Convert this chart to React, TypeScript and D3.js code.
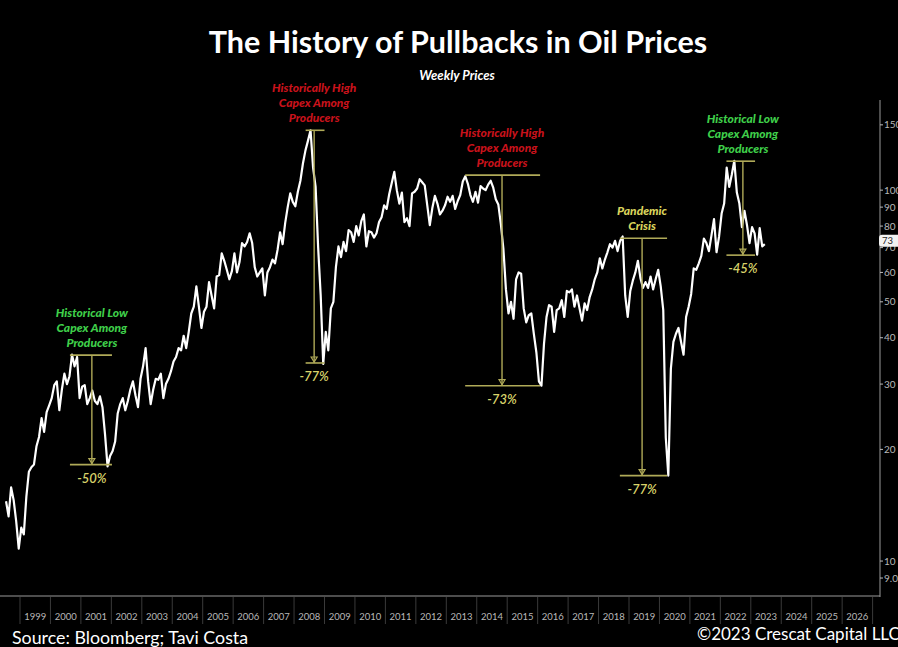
import React, { useRef, useEffect } from "react";
import * as d3 from "d3";

// WTI weekly-ish closes, one value per month, starting July 1998
const firstMonth = 1998.5;
const oilPrices = [
  14.5, 13.2, 15.8, 14.6, 12.8, 10.8, // 1998 H2
  12.3, 11.8, 14.9, 17.4, 17.9, 18.2, 20.4, 21.6, 24.3, 22.3, 25.2, 26.3, // 1999
  27.5, 29.8, 30.5, 25.5, 29.0, 32.0, 30.0, 31.5, 36.0, 33.5, 35.5, 27.5, // 2000
  29.5, 29.8, 26.5, 27.5, 28.8, 27.0, 26.5, 27.8, 26.0, 22.0, 18.0, 19.2, // 2001
  19.8, 21.0, 25.0, 26.5, 27.5, 25.5, 27.0, 29.0, 30.5, 28.0, 26.0, 31.0, // 2002
  33.5, 37.5, 30.5, 26.5, 29.0, 31.0, 30.8, 32.0, 27.5, 30.0, 31.0, 32.5, // 2003
  34.5, 35.5, 37.5, 37.0, 40.5, 37.5, 41.5, 46.5, 48.5, 55.0, 48.5, 42.5, // 2004
  47.0, 48.5, 56.5, 52.0, 48.0, 58.5, 59.0, 67.5, 64.5, 61.0, 57.5, 60.5, // 2005
  67.5, 60.0, 64.0, 72.0, 70.5, 72.5, 76.5, 72.0, 62.0, 58.5, 60.0, 61.5, // 2006
  52.0, 60.0, 62.0, 65.0, 63.5, 69.0, 77.0, 71.5, 81.5, 90.0, 98.0, 93.0, // 2007
  90.5, 99.0, 106.0, 118.0, 128.0, 136.0, 145.0, 115.0, 102.0, 70.0, 52.0, 34.0, // 2008
  41.5, 37.0, 48.0, 50.0, 62.0, 70.5, 66.0, 72.5, 68.5, 78.0, 77.0, 72.5, // 2009
  80.0, 75.5, 82.5, 86.0, 70.5, 77.5, 77.0, 74.5, 76.5, 82.0, 84.5, 91.0, // 2010
  89.0, 97.5, 104.5, 112.0, 100.0, 92.0, 98.5, 82.0, 84.0, 80.0, 98.0, 99.0, // 2011
  101.0, 107.0, 105.0, 103.0, 91.0, 80.5, 89.5, 96.5, 92.0, 86.0, 88.0, 91.0, // 2012
  96.0, 93.0, 96.5, 89.0, 93.5, 97.0, 105.5, 109.0, 104.0, 97.0, 93.0, 99.0, // 2013
  92.5, 102.5, 101.0, 100.0, 103.5, 106.0, 101.5, 94.5, 91.5, 81.0, 69.5, 54.0, // 2014
  46.5, 50.0, 45.0, 57.5, 60.0, 59.5, 48.0, 44.0, 46.0, 46.5, 41.0, 36.5, // 2015
  30.5, 29.7, 38.5, 45.5, 49.0, 48.5, 41.5, 47.5, 48.0, 50.5, 45.5, 53.5, // 2016
  53.0, 54.0, 48.5, 52.0, 48.0, 44.5, 49.5, 47.5, 51.5, 54.0, 57.5, 60.0, // 2017
  65.5, 61.5, 65.0, 68.0, 71.5, 70.0, 73.0, 68.5, 73.0, 75.0, 52.0, 45.5, // 2018
  53.5, 57.0, 60.0, 64.5, 58.0, 54.5, 56.5, 54.5, 58.5, 54.0, 57.5, 61.0, // 2019
  55.0, 47.5, 21.5, 17.0, 33.0, 39.0, 41.0, 42.5, 39.0, 36.0, 45.5, 48.5, // 2020
  52.5, 61.5, 61.0, 63.5, 66.5, 74.0, 72.0, 68.5, 75.5, 83.5, 68.0, 75.0, // 2021
  86.5, 92.0, 115.0, 102.0, 110.0, 120.0, 98.5, 92.0, 79.5, 88.0, 80.5, 72.0, // 2022
  79.5, 76.5, 67.0, 79.0, 70.5, 71.5, // 2023 H1
];

const yearLabels = [
  1999, 2000, 2001, 2002, 2003, 2004, 2005, 2006, 2007, 2008, 2009, 2010, 2011, 2012,
  2013, 2014, 2015, 2016, 2017, 2018, 2019, 2020, 2021, 2022, 2023, 2024, 2025, 2026,
];
const priceTicks = [9, 10, 20, 30, 40, 50, 60, 70, 80, 90, 100, 150];
const lastPrice = 73;

// pullbacks: peak -> trough, span in years
const pullbacks = [
  { lines: ["Historical Low", "Capex Among", "Producers"], color: "#3fcf4a", peak: 35.9, trough: 18.2, from: 2000.64, to: 2002.02, at: 2001.36, pct: "-50%" },
  { lines: ["Historically High", "Capex Among", "Producers"], color: "#c8121b", peak: 145, trough: 34.2, from: 2008.38, to: 2009.0, at: 2008.66, pct: "-77%" },
  { lines: ["Historically High", "Capex Among", "Producers"], color: "#c8121b", peak: 109.8, trough: 29.7, from: 2013.62, to: 2016.08, at: 2014.83, pct: "-73%" },
  { lines: ["Pandemic", "Crisis"], color: "#d9d35c", peak: 74.2, trough: 17.0, from: 2018.7, to: 2020.25, at: 2019.43, pct: "-77%" },
  { lines: ["Historical Low", "Capex Among", "Producers"], color: "#3fcf4a", peak: 119.7, trough: 66.8, from: 2022.2, to: 2023.14, at: 2022.74, pct: "-45%" },
];

const OilPullbacks = () => {
  const ref = useRef(null);

  useEffect(() => {
    document.body.style.margin = "0";
    const width = 898;
    const height = 647;
    const axisX = 880;
    const bottomY = 597;
    const font = "Lato, 'Open Sans', sans-serif";

    const x = d3.scaleLinear().domain([1999, 2027]).range([20, 872.6]);
    const y = d3.scaleLog().domain([8, 175]).range([bottomY, 100]);

    const series = oilPrices.map((v, i) => ({ t: firstMonth + i / 12 + 1 / 24, v }));

    d3.select(ref.current).selectAll("*").remove();

    const svg = d3
      .select(ref.current)
      .append("svg")
      .attr("width", width)
      .attr("height", height)
      .style("display", "block")
      .style("background", "#000")
      .style("font-family", font);

    svg.append("rect").attr("width", width).attr("height", height).attr("fill", "#000");

    // title
    svg.append("text")
      .attr("x", 458).attr("y", 53)
      .attr("text-anchor", "middle")
      .attr("fill", "#fff")
      .attr("font-size", 30.5)
      .attr("font-weight", "bold")
      .text("The History of Pullbacks in Oil Prices");

    svg.append("text")
      .attr("x", 457).attr("y", 80)
      .attr("text-anchor", "middle")
      .attr("fill", "#fff")
      .attr("font-size", 13)
      .attr("font-weight", "bold")
      .attr("font-style", "italic")
      .text("Weekly Prices");

    // bottom axis: year bands
    svg.append("line")
      .attr("x1", 0).attr("x2", axisX)
      .attr("y1", bottomY - 1).attr("y2", bottomY - 1)
      .attr("stroke", "#9a9a9a");

    const years = svg.append("g");
    years.selectAll("line")
      .data([...yearLabels, 2027])
      .join("line")
      .attr("x1", (d) => x(d)).attr("x2", (d) => x(d))
      .attr("y1", bottomY).attr("y2", 624)
      .attr("stroke", "#3a3a3a");
    years.selectAll("text")
      .data(yearLabels)
      .join("text")
      .attr("x", (d) => x(d + 0.5))
      .attr("y", 620)
      .attr("text-anchor", "middle")
      .attr("fill", "#b8b8b8")
      .attr("font-size", 9.5)
      .text((d) => d);

    // right axis
    svg.append("line")
      .attr("x1", axisX).attr("x2", axisX)
      .attr("y1", 100).attr("y2", bottomY)
      .attr("stroke", "#9a9a9a");
    const ticks = svg.append("g");
    ticks.selectAll("line")
      .data(priceTicks)
      .join("line")
      .attr("x1", axisX).attr("x2", axisX + 3)
      .attr("y1", (d) => y(d)).attr("y2", (d) => y(d))
      .attr("stroke", "#bbb");
    ticks.selectAll("text")
      .data(priceTicks)
      .join("text")
      .attr("x", axisX + 4)
      .attr("y", (d) => y(d))
      .attr("dy", "0.35em")
      .attr("fill", "#b8b8b8")
      .attr("font-size", 10)
      .text((d) => (d < 10 ? d3.format(".1f")(d) : d));

    // price line
    const line = d3
      .line()
      .x((d) => x(d.t))
      .y((d) => y(d.v));

    svg.append("path")
      .datum(series)
      .attr("fill", "none")
      .attr("stroke", "#fff")
      .attr("stroke-width", 2.2)
      .attr("stroke-linejoin", "round")
      .attr("d", line);

    // last price badge
    svg.append("rect")
      .attr("x", axisX - 1).attr("y", y(lastPrice) - 6)
      .attr("width", 22).attr("height", 12)
      .attr("rx", 3)
      .attr("fill", "#f2f2f2");
    svg.append("text")
      .attr("x", axisX + 2).attr("y", y(lastPrice))
      .attr("dy", "0.35em")
      .attr("fill", "#222")
      .attr("font-size", 9.5)
      .text(lastPrice);

    // pullback markers
    const guide = "#b0aa58";
    pullbacks.forEach((p) => {
      const g = svg.append("g");
      const yt = y(p.peak);
      const yb = y(p.trough);
      const xm = x(p.at);
      [yt, yb].forEach((yy) =>
        g.append("line")
          .attr("x1", x(p.from)).attr("x2", x(p.to))
          .attr("y1", yy).attr("y2", yy)
          .attr("stroke", guide)
          .attr("stroke-width", 1.6));
      g.append("line")
        .attr("x1", xm).attr("x2", xm)
        .attr("y1", yt).attr("y2", yb)
        .attr("stroke", guide)
        .attr("stroke-width", 1.4);
      g.append("path")
        .attr("d", `M${xm - 3},${yb - 6}L${xm + 3},${yb - 6}L${xm},${yb - 1}Z`)
        .attr("fill", "none")
        .attr("stroke", guide)
        .attr("stroke-width", 1.2);

      p.lines.forEach((s, k) => {
        g.append("text")
          .attr("x", xm)
          .attr("y", yt - 8 - (p.lines.length - 1 - k) * 15)
          .attr("text-anchor", "middle")
          .attr("fill", p.color)
          .attr("font-size", 12)
          .attr("font-weight", 900)
          .attr("font-style", "italic")
          .text(s);
      });

      g.append("text")
        .attr("x", xm)
        .attr("y", yb + 18)
        .attr("text-anchor", "middle")
        .attr("fill", "#d9d36a")
        .attr("font-size", 13)
        .attr("font-weight", 600)
        .attr("font-style", "italic")
        .text(p.pct);
    });

    // footer
    svg.append("text")
      .attr("x", 12).attr("y", 644)
      .attr("fill", "#fff")
      .attr("font-size", 17.8)
      .text("Source: Bloomberg; Tavi Costa");
    svg.append("text")
      .attr("x", 697).attr("y", 640)
      .attr("fill", "#fff")
      .attr("font-size", 17)
      .text("©2023 Crescat Capital LLC");
  }, []);

  return <div ref={ref}></div>;
};

export default function App() {
  return <OilPullbacks />;
}
